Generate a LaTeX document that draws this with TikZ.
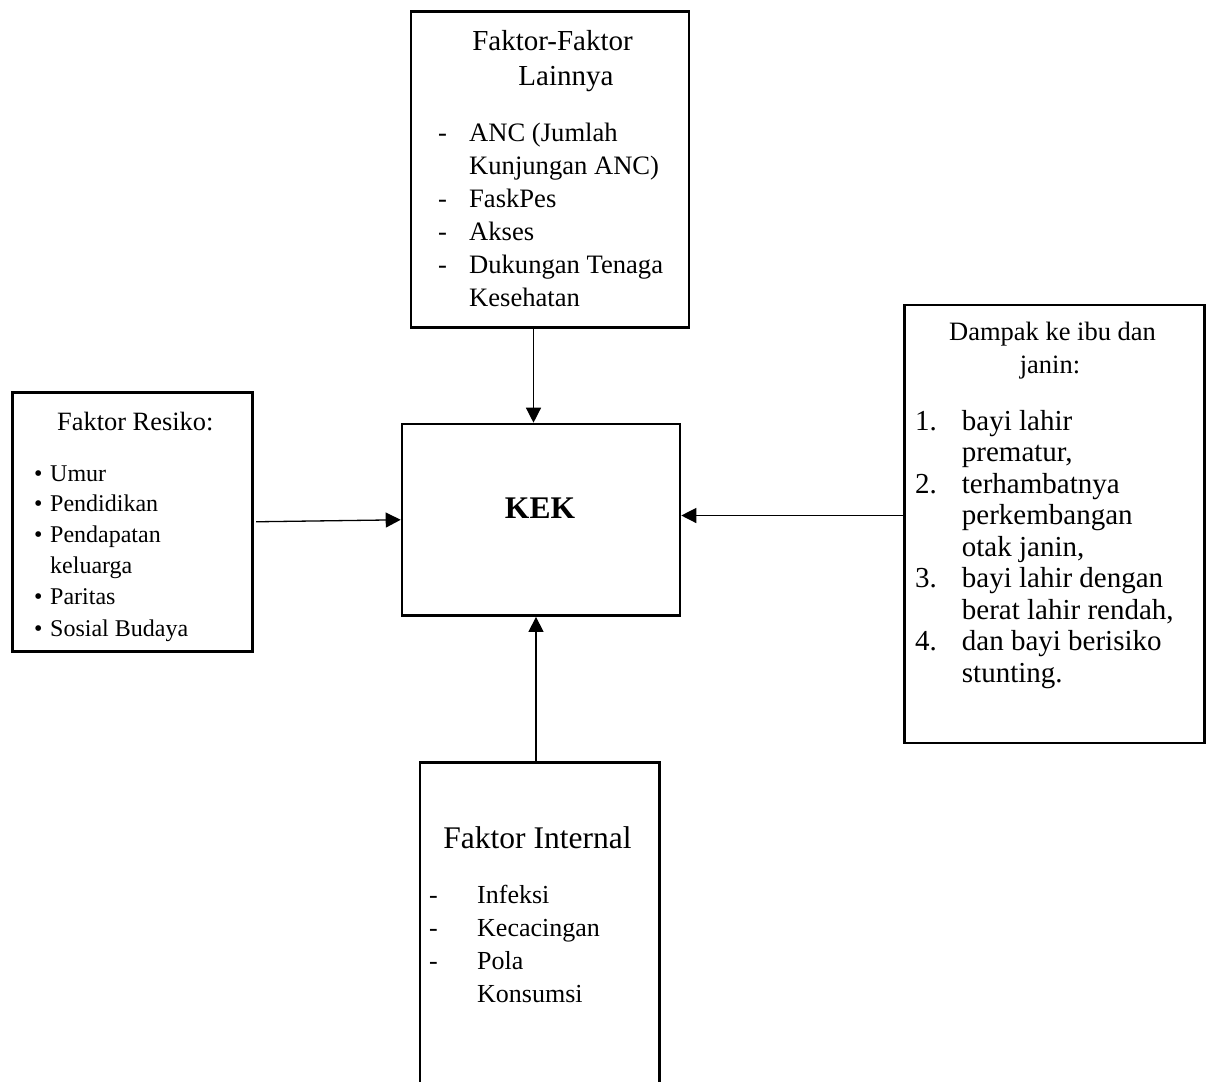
\documentclass[tikz,border=0pt]{standalone}
\usepackage{fontspec}
\setmainfont{Liberation Serif}
\usetikzlibrary{arrows.meta}

\begin{document}
\begin{tikzpicture}[x=1pt,y=1pt,yscale=-1,xscale=1,
  box/.style={draw, line width=2.6pt, inner sep=0pt, anchor=north west},
  arr/.style={line width=1.3pt, -{Triangle[length=15pt,width=15pt]}},
  txt/.style={inner sep=0pt, anchor=base west},
  ctr/.style={inner sep=0pt, anchor=base}]
\useasboundingbox (0,0) rectangle (1208,1082);

%Shape: Rectangle [id:lain]
\node[box, minimum width=278pt, minimum height=316pt] (lain) at (409.5,10) {};
%Shape: Rectangle [id:resiko]
\node[box, minimum width=240pt, minimum height=259pt] (resiko) at (11,391) {};
%Shape: Rectangle [id:kek]
\node[box, minimum width=278pt, minimum height=191.6pt] (kek) at (400.7,422.7) {};
%Shape: Rectangle [id:dampak]
\node[box, minimum width=300pt, minimum height=438pt] (dampak) at (903,303.5) {};
%Shape: Rectangle [id:internal] (runs off the page)
\node[box, minimum width=239.5pt, minimum height=340pt] (internal) at (418.8,761) {};

% Text Node
\node[ctr, font=\fontsize{29}{33}\selectfont] (lainA) at (552.5,50.5) {Faktor-Faktor};
\node[ctr, font=\fontsize{29}{33}\selectfont] (lainB) at (566,85) {Lainnya};
% Text Node
\node[txt, font=\fontsize{26.6}{33}\selectfont] (lain1) at (438,141) {\makebox[31pt][l]{-}ANC (Jumlah};
\node[txt, font=\fontsize{26.6}{33}\selectfont] (lain2) at (469,174) {Kunjungan ANC)};
\node[txt, font=\fontsize{26.6}{33}\selectfont] (lain3) at (438,207) {\makebox[31pt][l]{-}FaskPes};
\node[txt, font=\fontsize{26.6}{33}\selectfont] (lain4) at (438,240) {\makebox[31pt][l]{-}Akses};
\node[txt, font=\fontsize{26.6}{33}\selectfont] (lain5) at (438,273) {\makebox[31pt][l]{-}Dukungan Tenaga};
\node[txt, font=\fontsize{26.6}{33}\selectfont] (lain6) at (469,306) {Kesehatan};

% Text Node
\node[ctr, font=\fontsize{26.4}{31}\selectfont] (resikoA) at (135.3,430) {Faktor Resiko:};
% Text Node
\node[txt, font=\fontsize{24}{31}\selectfont] (resiko1) at (34,481) {\makebox[16pt][l]{\textbullet}Umur};
\node[txt, font=\fontsize{24}{31}\selectfont] (resiko2) at (34,511) {\makebox[16pt][l]{\textbullet}Pendidikan};
\node[txt, font=\fontsize{24}{31}\selectfont] (resiko3) at (34,542) {\makebox[16pt][l]{\textbullet}Pendapatan};
\node[txt, font=\fontsize{24}{31}\selectfont] (resiko4) at (50,573) {keluarga};
\node[txt, font=\fontsize{24}{31}\selectfont] (resiko5) at (34,604) {\makebox[16pt][l]{\textbullet}Paritas};
\node[txt, font=\fontsize{24}{31}\selectfont] (resiko6) at (34,636) {\makebox[16pt][l]{\textbullet}Sosial Budaya};

% Text Node
\node[ctr, font=\fontsize{31.5}{36}\bfseries\selectfont] (kekA) at (540,518) {KEK};

% Text Node
\node[ctr, font=\fontsize{26.5}{33}\selectfont] (dampakA) at (1052.5,340) {Dampak ke ibu dan};
\node[ctr, font=\fontsize{26.5}{33}\selectfont] (dampakB) at (1050,373) {janin:};
% Text Node
\node[txt, font=\fontsize{29}{31.5}\selectfont] (dampak1) at (915,430) {\makebox[46.7pt][l]{1.}bayi lahir};
\node[txt, font=\fontsize{29}{31.5}\selectfont] (dampak2) at (961.7,461.5) {prematur,};
\node[txt, font=\fontsize{29}{31.5}\selectfont] (dampak3) at (915,493) {\makebox[46.7pt][l]{2.}terhambatnya};
\node[txt, font=\fontsize{29}{31.5}\selectfont] (dampak4) at (961.7,524.5) {perkembangan};
\node[txt, font=\fontsize{29}{31.5}\selectfont] (dampak5) at (961.7,556) {otak janin,};
\node[txt, font=\fontsize{29}{31.5}\selectfont] (dampak6) at (915,587.5) {\makebox[46.7pt][l]{3.}bayi lahir dengan};
\node[txt, font=\fontsize{29}{31.5}\selectfont] (dampak7) at (961.7,619) {berat lahir rendah,};
\node[txt, font=\fontsize{29}{31.5}\selectfont] (dampak8) at (915,650.5) {\makebox[46.7pt][l]{4.}dan bayi berisiko};
\node[txt, font=\fontsize{29}{31.5}\selectfont] (dampak9) at (961.7,682) {stunting.};

% Text Node
\node[ctr, font=\fontsize{31.5}{36}\selectfont] (internalA) at (537.5,848) {Faktor Internal};
% Text Node
\node[txt, font=\fontsize{26}{33}\selectfont] (internal1) at (429,903) {\makebox[48pt][l]{-}Infeksi};
\node[txt, font=\fontsize{26}{33}\selectfont] (internal2) at (429,936) {\makebox[48pt][l]{-}Kecacingan};
\node[txt, font=\fontsize{26}{33}\selectfont] (internal3) at (429,969) {\makebox[48pt][l]{-}Pola};
\node[txt, font=\fontsize{26}{33}\selectfont] (internal4) at (477,1002) {Konsumsi};

% Connectors
\coordinate (ax) at (533.5,0);
\coordinate (bx) at (536,0);
\coordinate (ay) at (0,515.5);
\draw[arr] (lain.south -| ax) -- (kek.north -| ax);
\draw[arr, shorten <=2.5pt] (resiko.east) -- (kek.west);
\draw[arr] (dampak.west |- ay) -- (kek.east |- ay);
\draw[arr] (internal.north -| bx) -- (kek.south -| bx);
\end{tikzpicture}
\end{document}
